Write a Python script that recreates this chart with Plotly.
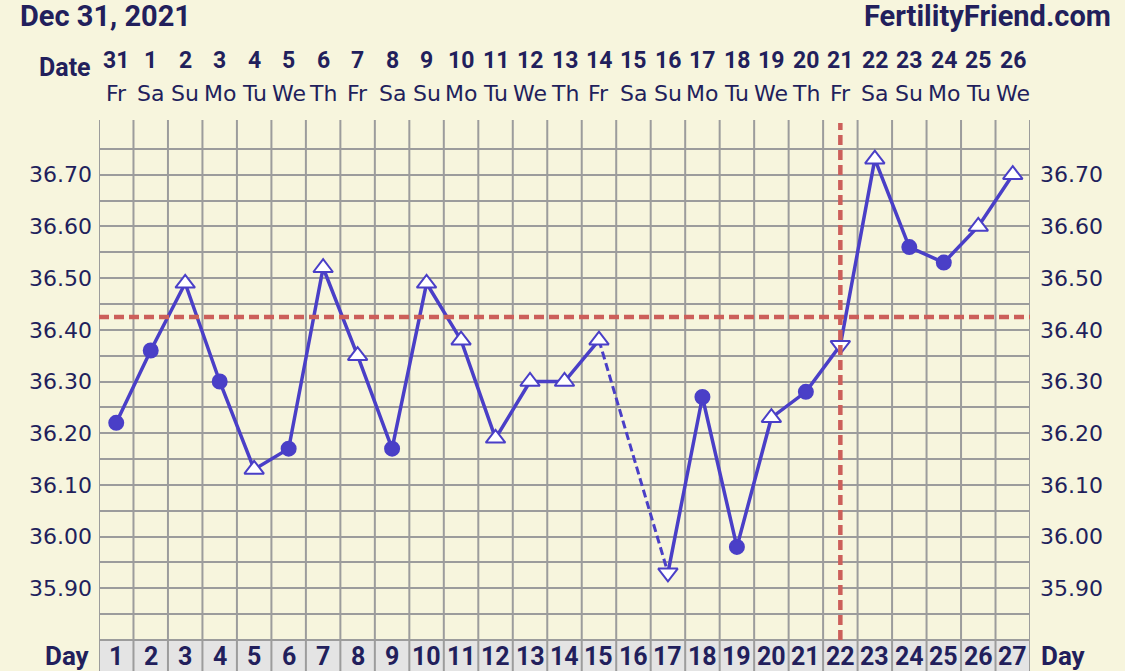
import numpy as np
import plotly.graph_objects as go

# ---------------- data ----------------
days = list(range(1, 28))
dates = ["31", "1", "2", "3", "4", "5", "6", "7", "8", "9", "10", "11", "12", "13",
         "14", "15", "16", "17", "18", "19", "20", "21", "22", "23", "24", "25", "26"]
weekdays = ["Fr", "Sa", "Su", "Mo", "Tu", "We", "Th", "Fr", "Sa", "Su", "Mo", "Tu", "We", "Th",
            "Fr", "Sa", "Su", "Mo", "Tu", "We", "Th", "Fr", "Sa", "Su", "Mo", "Tu", "We"]
temps = [36.22, 36.36, 36.49, 36.30, 36.13, 36.17, 36.52, 36.35, 36.17, 36.49, 36.38, 36.19,
         36.30, 36.30, 36.38, None, 35.93, 36.27, 35.98, 36.23, 36.28, 36.37, 36.73, 36.56,
         36.53, 36.60, 36.70]
kinds = ["circle", "circle", "up", "circle", "up", "circle", "up", "up", "circle", "up", "up", "up",
         "up", "up", "up", None, "down", "circle", "circle", "up", "circle", "down", "up", "circle",
         "circle", "up", "up"]
ytick_labels = ["35.90", "36.00", "36.10", "36.20", "36.30", "36.40", "36.50", "36.60", "36.70"]
coverline = 36.425
ovulation_day = 22
title_left = "Dec 31, 2021"
title_right = "FertilityFriend.com"

# ---------------- style ----------------
BG = "#f7f5dd"
NAVY = "#221f5c"
BLUE = "#4a3fc7"
RED = "#cc5f5a"
GRID = "#9c9c9c"
DAYROW = "#e4e4e4"
BOLD = "Roboto"
REG = "DejaVu Sans"

W, H = 1125, 671
ML, MT = 99, 123
PW, PH = 931, 517
MR, MB = W - ML - PW, H - MT - PH
YMIN, YMAX = 35.80, 36.80


def py(px):  # pixel y (from top) -> paper
    return (MT + PH - px) / PH


def pxx(px):  # pixel x -> paper
    return (px - ML) / PW


fig = go.Figure()

# main line (solid segments)
fig.add_trace(go.Scatter(x=days, y=temps, mode="lines", connectgaps=False,
                         line=dict(color=BLUE, width=3.5), hoverinfo="skip", showlegend=False))

# dashed bridges over missing days
for i, t in enumerate(temps):
    if t is None:
        a = i - 1
        b = i + 1
        while b < len(temps) and temps[b] is None:
            b += 1
        if a >= 0 and b < len(temps):
            fig.add_trace(go.Scatter(x=[days[a], days[b]], y=[temps[a], temps[b]], mode="lines",
                                     line=dict(color=BLUE, width=3, dash="8px,4px"),
                                     hoverinfo="skip", showlegend=False))

# markers
sym_map = {"circle": "circle", "up": "triangle-up", "down": "triangle-down"}
mx, my, ms, mc, msz = [], [], [], [], []
for d, t, k in zip(days, temps, kinds):
    if t is None:
        continue
    mx.append(d)
    my.append(t)
    ms.append(sym_map[k])
    mc.append(BLUE if k == "circle" else "white")
    msz.append(14 if k == "circle" else 17)
fig.add_trace(go.Scatter(x=mx, y=my, mode="markers",
                         marker=dict(symbol=ms, color=mc, size=msz, opacity=1,
                                     line=dict(color=BLUE, width=2)),
                         hoverinfo="skip", showlegend=False))

# invisible trace for right axis
fig.add_trace(go.Scatter(x=[days[0]], y=[YMIN], yaxis="y2", mode="markers",
                         marker=dict(opacity=0), hoverinfo="skip", showlegend=False))

grid_vals = [round(v, 2) for v in np.arange(YMIN, YMAX + 0.001, 0.05)]
label_vals = [float(s) for s in ytick_labels]
grid_text = [f"{v:.2f}" if f"{v:.2f}" in ytick_labels else "" for v in grid_vals]
col_edges = [d - 0.5 for d in days] + [days[-1] + 0.5]

shapes = []
# day row background
shapes.append(dict(type="rect", xref="paper", yref="paper", x0=0, x1=1,
                   y0=py(680), y1=0, fillcolor=DAYROW, line=dict(width=0), layer="below"))
for e in col_edges:
    shapes.append(dict(type="line", xref="x", yref="paper", x0=e, x1=e, y0=py(680), y1=py(120),
                       line=dict(color=GRID, width=2), layer="below"))
shapes.append(dict(type="line", xref="paper", yref="paper", x0=0, x1=1, y0=0, y1=0,
                   line=dict(color=GRID, width=2), layer="below"))
# coverline and ovulation line
shapes.append(dict(type="line", xref="paper", yref="y", x0=0, x1=1, y0=coverline, y1=coverline,
                   line=dict(color=RED, width=4.5, dash="10px,5px"), layer="above"))
shapes.append(dict(type="line", xref="x", yref="paper", x0=ovulation_day, x1=ovulation_day,
                   y0=0, y1=1, line=dict(color=RED, width=4.5, dash="10px,5px"), layer="above"))

ann = []
ann.append(dict(text=title_left, x=pxx(18), y=py(16), xref="paper", yref="paper",
                xanchor="left", yanchor="middle", showarrow=False,
                font=dict(family=BOLD, size=29, color=NAVY, weight="bold")))
ann.append(dict(text=title_right, x=pxx(1113), y=py(16), xref="paper", yref="paper",
                xanchor="right", yanchor="middle", showarrow=False,
                font=dict(family=BOLD, size=29, color=NAVY, weight="bold")))
ann.append(dict(text="Date", x=pxx(93), y=py(67), xref="paper", yref="paper",
                xanchor="right", yanchor="middle", showarrow=False,
                font=dict(family=BOLD, size=25, color=NAVY, weight="bold")))
for d, dt, wd in zip(days, dates, weekdays):
    ann.append(dict(text=dt, x=d, y=py(61), xref="x", yref="paper", xanchor="center",
                    yanchor="middle", showarrow=False,
                    font=dict(family=BOLD, size=23, color=NAVY, weight="bold")))
    ann.append(dict(text=wd, x=d, y=py(94), xref="x", yref="paper", xanchor="center",
                    yanchor="middle", showarrow=False,
                    font=dict(family=REG, size=22, color=NAVY)))
    ann.append(dict(text=str(d), x=d, y=py(656), xref="x", yref="paper", xanchor="center",
                    yanchor="middle", showarrow=False,
                    font=dict(family=BOLD, size=25, color=NAVY, weight="bold")))
ann.append(dict(text="Day", x=pxx(92), y=py(656), xref="paper", yref="paper",
                xanchor="right", yanchor="middle", showarrow=False,
                font=dict(family=BOLD, size=26, color=NAVY, weight="bold")))
ann.append(dict(text="Day", x=pxx(1039), y=py(656), xref="paper", yref="paper",
                xanchor="left", yanchor="middle", showarrow=False,
                font=dict(family=BOLD, size=26, color=NAVY, weight="bold")))

fig.update_layout(
    width=W, height=H,
    margin=dict(l=ML, r=MR, t=MT, b=MB, pad=0),
    paper_bgcolor=BG, plot_bgcolor=BG,
    xaxis=dict(range=[col_edges[0], col_edges[-1]], showgrid=False, zeroline=False,
               showticklabels=False, ticks="", fixedrange=True),
    yaxis=dict(range=[YMIN, YMAX], tickvals=grid_vals, ticktext=grid_text, showgrid=True,
               gridcolor=GRID, gridwidth=2, zeroline=False, ticks="", ticklabelstandoff=6,
               tickfont=dict(family=REG, size=22, color=NAVY), fixedrange=True),
    yaxis2=dict(range=[YMIN, YMAX], overlaying="y", side="right", tickvals=label_vals,
                ticktext=ytick_labels, showgrid=False, zeroline=False, ticks="",
                ticklabelstandoff=9, tickfont=dict(family=REG, size=22, color=NAVY),
                fixedrange=True),
    shapes=shapes, annotations=ann, showlegend=False, hovermode=False,
)

fig.write_html(
    "out.html",
    config={"displayModeBar": False, "staticPlot": True},
    post_script="document.body.style.margin='0';document.body.style.overflow='hidden';"
                "document.documentElement.style.background='" + BG + "';",
)
